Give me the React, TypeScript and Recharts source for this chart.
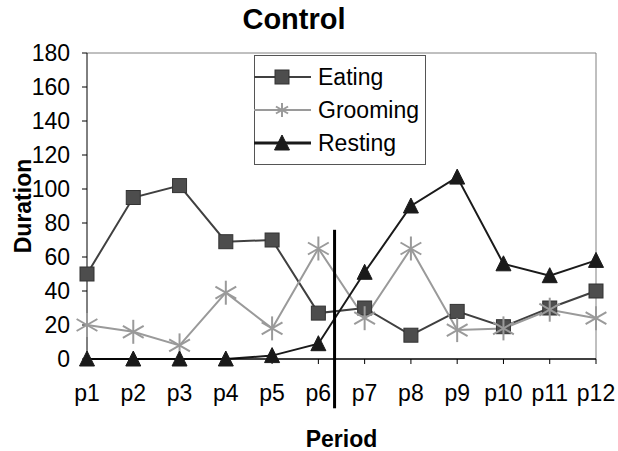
import React from 'react';
import {
  LineChart,
  Line,
  XAxis,
  YAxis,
  Legend,
  ReferenceLine,
  Label,
} from 'recharts';

// values
const periods = ['p1', 'p2', 'p3', 'p4', 'p5', 'p6', 'p7', 'p8', 'p9', 'p10', 'p11', 'p12'];
const eating = [50, 95, 102, 69, 70, 27, 30, 14, 28, 19, 30, 40];
const grooming = [20, 16, 8, 39, 18, 65, 24, 65, 17, 18, 29, 24];
const resting = [0, 0, 0, 0, 2, 9, 51, 90, 107, 56, 49, 58];
const yTicks = [0, 20, 40, 60, 80, 100, 120, 140, 160, 180];

const FONT = '"Liberation Sans", Arial, sans-serif';

const data = periods.map((p, i) => ({
  x: i + 1,
  period: p,
  eating: eating[i],
  grooming: grooming[i],
  resting: resting[i],
}));

// Marker shapes
const Square = ({ cx, cy, size = 14 }: { cx: number; cy: number; size?: number }) => (
  <rect
    x={cx - size / 2}
    y={cy - size / 2}
    width={size}
    height={size}
    fill="#4d4d4d"
    stroke="#333"
    strokeWidth={1}
  />
);

const Asterisk = ({ cx, cy, r = 12 }: { cx: number; cy: number; r?: number }) => {
  const dx = r * 0.866;
  const dy = r * 0.5;
  return (
    <g stroke="#9a9a9a" strokeWidth={2}>
      <line x1={cx} y1={cy - r} x2={cx} y2={cy + r} />
      <line x1={cx - dx} y1={cy - dy} x2={cx + dx} y2={cy + dy} />
      <line x1={cx - dx} y1={cy + dy} x2={cx + dx} y2={cy - dy} />
    </g>
  );
};

const Triangle = ({ cx, cy, w = 7.5 }: { cx: number; cy: number; w?: number }) => (
  <polygon
    points={`${cx},${cy - 8} ${cx + w},${cy + 7} ${cx - w},${cy + 7}`}
    fill="#1a1a1a"
    stroke="#1a1a1a"
    strokeWidth={1}
  />
);

const series = [
  { key: 'eating', name: 'Eating', color: '#404040', width: 2, marker: 'square' },
  { key: 'grooming', name: 'Grooming', color: '#9a9a9a', width: 2, marker: 'star' },
  { key: 'resting', name: 'Resting', color: '#1a1a1a', width: 2, marker: 'triangle' },
];

const renderMarker = (marker: string, cx: number, cy: number, small = false) => {
  if (marker === 'square') return <Square cx={cx} cy={cy} size={14} />;
  if (marker === 'star') return <Asterisk cx={cx} cy={cy} r={small ? 7 : 12} />;
  return <Triangle cx={cx} cy={cy} />;
};

const makeDot = (marker: string) => (props: any) => {
  const { cx, cy, index } = props;
  return <g key={`${marker}-${index}`}>{renderMarker(marker, cx, cy)}</g>;
};

const LegendBox = () => (
  <div
    style={{
      width: 172,
      height: 110,
      boxSizing: 'border-box',
      border: '1px solid #555',
      background: '#fff',
      paddingTop: 4,
      fontFamily: FONT,
    }}
  >
    {series.map((s) => (
      <div key={s.key} style={{ display: 'flex', alignItems: 'center', height: 33 }}>
        <svg width={57} height={24} style={{ display: 'block', marginLeft: -1 }}>
          <line
            x1={0}
            y1={12}
            x2={57}
            y2={12}
            stroke={s.color}
            strokeWidth={s.key === 'resting' ? 3 : 2}
          />
          {renderMarker(s.marker, 28, 12, true)}
        </svg>
        <span style={{ marginLeft: 7, fontSize: 23, color: '#000', lineHeight: '24px' }}>
          {s.name}
        </span>
      </div>
    ))}
  </div>
);

export default function App() {
  return (
    <div
      style={{
        position: 'absolute',
        left: 0,
        top: 0,
        width: 618,
        height: 451,
        background: '#fff',
        fontFamily: FONT,
      }}
    >
      <div
        style={{
          position: 'absolute',
          left: 0,
          top: 1,
          width: 588,
          textAlign: 'center',
          fontSize: 29,
          fontWeight: 'bold',
          lineHeight: '36px',
        }}
      >
        Control
      </div>
      <LineChart
        width={618}
        height={451}
        data={data}
        margin={{ top: 53, right: 22, left: 0, bottom: 0 }}
        style={{ fontFamily: FONT }}
      >
        <XAxis
          dataKey="x"
          type="number"
          domain={[1, 12]}
          ticks={data.map((d) => d.x)}
          interval={0}
          tickFormatter={(v: number) => periods[v - 1]}
          height={92}
          tickSize={5}
          tickMargin={21}
          axisLine={{ stroke: '#000', strokeWidth: 1.5 }}
          tickLine={{ stroke: '#000' }}
          tick={{ fill: '#000', fontSize: 23 }}
        >
          <Label
            value="Period"
            position="insideBottom"
            offset={4}
            style={{ fontSize: 23, fontWeight: 'bold', fill: '#000' }}
          />
        </XAxis>
        <YAxis
          type="number"
          domain={[0, 180]}
          ticks={yTicks}
          interval={0}
          width={87}
          tickSize={5}
          tickMargin={12}
          axisLine={{ stroke: '#000' }}
          tickLine={{ stroke: '#000' }}
          tick={{ fill: '#000', fontSize: 23 }}
        >
          <Label
            value="Duration"
            angle={-90}
            position="insideLeft"
            offset={23}
            style={{ fontSize: 23, fontWeight: 'bold', fill: '#000', textAnchor: 'middle' }}
          />
        </YAxis>
        {/* plot area frame, top and right */}
        <ReferenceLine y={180} stroke="#808080" />
        <ReferenceLine x={12} stroke="#808080" />
        {series.map((s) => (
          <Line
            key={s.key}
            dataKey={s.key}
            name={s.name}
            stroke={s.color}
            strokeWidth={s.width}
            dot={makeDot(s.marker)}
            activeDot={false}
            isAnimationActive={false}
          />
        ))}
        {/* divider between p6 and p7 */}
        <ReferenceLine
          segment={[
            { x: 6.35, y: 76 },
            { x: 6.35, y: -29 },
          ]}
          stroke="#000"
          strokeWidth={3}
          ifOverflow="visible"
        />
        <Legend
          layout="horizontal"
          verticalAlign="middle"
          align="center"
          content={() => <LegendBox />}
          wrapperStyle={{ left: 254, top: 55, width: 172 }}
        />
      </LineChart>
    </div>
  );
}
